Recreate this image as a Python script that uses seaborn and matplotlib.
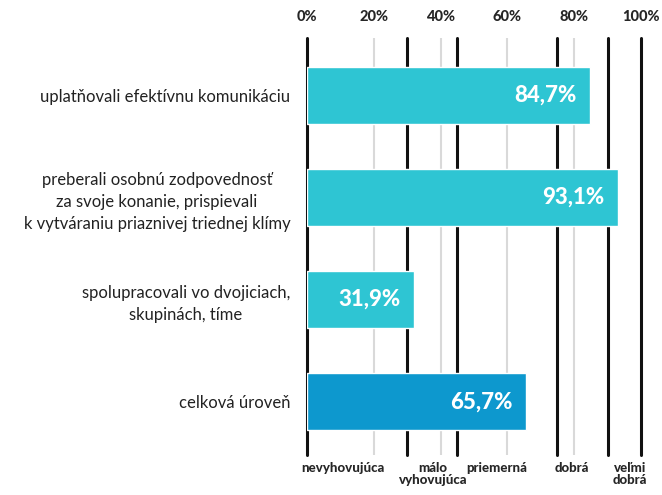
import matplotlib
matplotlib.use("Agg")
import matplotlib.pyplot as plt
import matplotlib.transforms as mtransforms
import seaborn as sns
import pandas as pd

# data
categories = [
    "uplatňovali efektívnu komunikáciu",
    "preberali osobnú zodpovednosť\nza svoje konanie, prispievali\nk vytváraniu priaznivej triednej klímy",
    "spolupracovali vo dvojiciach,\nskupinách, tíme",
    "celková úroveň",
]
values = [84.7, 93.1, 31.9, 65.7]
value_labels = ["84,7%", "93,1%", "31,9%", "65,7%"]
bar_colors = ["#2ec5d3", "#2ec5d3", "#2ec5d3", "#0d98ce"]

tick_values = [0, 20, 40, 60, 80, 100]
tick_labels = ["0%", "20%", "40%", "60%", "80%", "100%"]
threshold_values = [0, 30, 45, 75, 90, 100]
level_names = ["nevyhovujúca", "málo\nvyhovujúca", "priemerná", "dobrá", "veľmi\ndobrá"]
level_pos = [10.8, 37.7, 56.9, 79.3, 96.7]

sns.set_style("white")
plt.rcParams["font.family"] = ["Lato", "DejaVu Sans"]

df = pd.DataFrame({"cat": categories, "val": values})

fig = plt.figure(figsize=(6.62, 4.95), dpi=100)
ax = fig.add_axes([0.4637, 0.081, 0.5045, 0.842])

# grid and threshold lines under the bars
for t in tick_values[1:-1]:
    ax.axvline(t, color="#d9d9d9", lw=1.5, zorder=0)
for t in threshold_values:
    ax.axvline(t, color="#111111", lw=2.2, zorder=0.5, clip_on=False)

sns.barplot(data=df, x="val", y="cat", hue="cat", palette=bar_colors,
            legend=False, width=0.56, ax=ax, zorder=2, saturation=1)

for i, (v, lab) in enumerate(zip(values, value_labels)):
    ax.text(v - 4, i, lab, ha="right", va="center", color="white",
            fontsize=16, fontweight="black", zorder=3)

ax.set_xlim(0, 100)
ax.set_ylim(3.52, -0.56)
ax.xaxis.tick_top()
ax.set_xticks(tick_values)
ax.set_xticklabels(tick_labels, fontsize=10.5, fontweight="black")
ax.tick_params(axis="x", length=0, pad=10)
ax.tick_params(axis="y", length=0, pad=12)
for lab in ax.get_yticklabels():
    lab.set_multialignment("center")
    lab.set_fontsize(12)
    lab.set_linespacing(1.45)
    lab.set_color("#222222")
ax.set_xlabel("")
ax.set_ylabel("")
for s in ax.spines.values():
    s.set_visible(False)

trans = mtransforms.blended_transform_factory(ax.transData, fig.transFigure)
for name, x in zip(level_names, level_pos):
    ax.text(x, 1 - 462 / 495, name, transform=trans, ha="center", va="top",
            fontsize=9.5, fontweight="black", linespacing=1.0)

fig.savefig("out.png", dpi=100)
